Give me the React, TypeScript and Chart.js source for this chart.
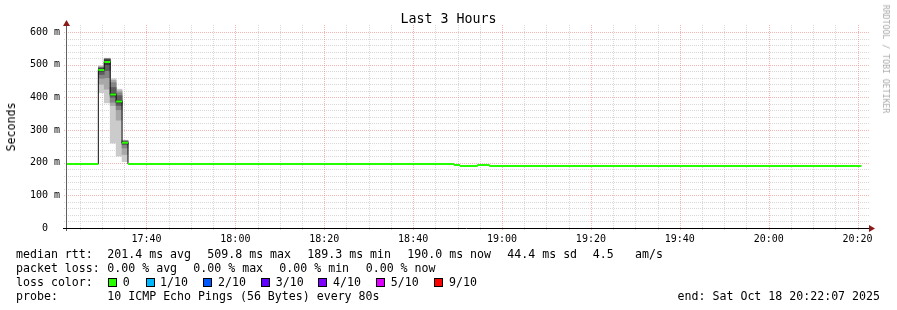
import React, { useEffect, useRef } from "react";
import { Chart, registerables } from "chart.js";

Chart.register(...registerables);

// ---------------- data ----------------
const GRAPH_START = "17:22:07";
const GRAPH_END = "20:22:07";
const STEP_SECONDS = 80;

// median rtt (ms): each value holds from its time until the next change time
const medianTimes = [
  "17:22:07", "17:29:10", "17:30:30", "17:31:50", "17:33:10", "17:34:30",
  "17:35:50", "18:49:10", "18:50:30", "18:54:30", "18:57:10",
];
const medianValues = [196, 484, 508, 409, 387, 261, 196, 193, 190, 193, 190];
const medianEnd = "20:20:50";

// smoke: 10 sorted ping rtts (ms) per 80 s interval
const smokeTimes = ["17:29:10", "17:30:30", "17:31:50", "17:33:10", "17:34:30"];
const smokePings = [
  [414, 440, 458, 470, 480, 488, 490, 492, 494, 497],
  [383, 425, 460, 482, 500, 515, 517, 518, 519, 520],
  [260, 375, 385, 400, 405, 412, 430, 445, 452, 457],
  [220, 330, 362, 375, 383, 391, 405, 414, 420, 425],
  [203, 225, 245, 255, 259, 263, 265, 267, 268, 269],
];

const yTickValues = [0, 100, 200, 300, 400, 500, 600];
const xTickLabels = ["17:40", "18:00", "18:20", "18:40", "19:00", "19:20", "19:40", "20:00", "20:20"];
const minorXMinutes = 5;
const minorYStep = 20;

const medianRow = ["median rtt:", "201.4 ms avg", "509.8 ms max", "189.3 ms min", "190.0 ms now", "44.4 ms sd", "4.5", "am/s"];
const lossRow = ["packet loss:", "0.00 % avg", "0.00 % max", "0.00 % min", "0.00 % now"];
const lossLabels = ["0", "1/10", "2/10", "3/10", "4/10", "5/10", "9/10"];
const lossColors = ["#26ff00", "#00b8ff", "#0059ff", "#5e00ff", "#7e00ff", "#dd00ff", "#ff0000"];
const probeRow = ["probe:", "10 ICMP Echo Pings (56 Bytes) every 80s"];
const endText = "end: Sat Oct 18 20:22:07 2025";
const titleText = "Last 3 Hours";
const yAxisTitle = "Seconds";
const watermark = "RRDTOOL / TOBI OETIKER";

// ---------------- layout / style ----------------
const W = 897;
const H = 310;
const MONO = "'DejaVu Sans Mono', monospace";
const medianRowX = [16, 107.3, 207.3, 307.3, 407.3, 507.3, 592.7, 635];
const lossRowX = [16, 107.3, 193.3, 279.3, 365.7];
const probeRowX = [16, 107.3];
const legendBoxX = [108, 146, 203, 261, 318, 376, 434];
const legendTextX = [122.7, 160, 218, 275.7, 333, 390.7, 449];
const smokeColors = ["#cbcbcb", "#a8a8a8", "#858585", "#5c5c5c", "#383838"];

const toSec = (s: string) => {
  const [h, m, x] = s.split(":").map(Number);
  return h * 3600 + m * 60 + x;
};
const fmtHM = (v: number) => {
  const h = Math.floor(v / 3600);
  const m = Math.floor((v % 3600) / 60);
  return String(h).padStart(2, "0") + ":" + String(m).padStart(2, "0");
};

const rrdPlugin = {
  id: "rrdGrid",
  beforeDatasetsDraw(chart: any) {
    const { ctx, chartArea: a, scales } = chart;
    const x = scales.x;
    const y = scales.y;
    const start = toSec(GRAPH_START);
    const end = toSec(GRAPH_END);
    const majors = xTickLabels.map((l) => toSec(l + ":00"));
    ctx.save();
    ctx.lineWidth = 1;
    ctx.setLineDash([1, 1]);
    const minorColor = "rgba(190,190,190,0.6)";
    const majorColor = "rgba(235,120,120,0.55)";
    const step = minorXMinutes * 60;
    const first = Math.ceil(start / step) * step;
    ctx.strokeStyle = minorColor;
    for (let t = first; t <= end; t += step) {
      if (majors.includes(t)) continue;
      const px = Math.round(x.getPixelForValue(t)) + 0.5;
      ctx.beginPath();
      ctx.moveTo(px, a.top - 7);
      ctx.lineTo(px, a.bottom + 3);
      ctx.stroke();
    }
    for (let v = minorYStep; v < 600; v += minorYStep) {
      if (v % 100 === 0) continue;
      const py = Math.round(y.getPixelForValue(v)) + 0.5;
      ctx.beginPath();
      ctx.moveTo(a.left - 3, py);
      ctx.lineTo(a.right + 2, py);
      ctx.stroke();
    }
    ctx.strokeStyle = majorColor;
    majors.forEach((t) => {
      const px = Math.round(x.getPixelForValue(t)) + 0.5;
      ctx.beginPath();
      ctx.moveTo(px, a.top - 7);
      ctx.lineTo(px, a.bottom + 3);
      ctx.stroke();
    });
    yTickValues.forEach((v) => {
      if (v === 0) return;
      const py = Math.round(y.getPixelForValue(v)) + 0.5;
      ctx.beginPath();
      ctx.moveTo(a.left - 3, py);
      ctx.lineTo(a.right + 2, py);
      ctx.stroke();
    });
    ctx.restore();
  },
  afterDatasetsDraw(chart: any) {
    const { ctx, chartArea: a } = chart;
    ctx.save();
    ctx.lineWidth = 1;
    ctx.setLineDash([]);
    const ax = a.left - 0.5;
    const ay = a.bottom + 0.5;
    ctx.strokeStyle = "#606060";
    ctx.beginPath();
    ctx.moveTo(ax, a.bottom + 3);
    ctx.lineTo(ax, a.top - 9);
    ctx.stroke();
    ctx.strokeStyle = "#000000";
    ctx.beginPath();
    ctx.moveTo(a.left - 4, ay);
    ctx.lineTo(a.right + 3, ay);
    ctx.stroke();
    ctx.fillStyle = "#8b1a1a";
    ctx.beginPath();
    ctx.moveTo(ax, a.top - 12);
    ctx.lineTo(ax - 3.5, a.top - 6);
    ctx.lineTo(ax + 3.5, a.top - 6);
    ctx.closePath();
    ctx.fill();
    ctx.beginPath();
    ctx.moveTo(a.right + 8, ay);
    ctx.lineTo(a.right + 2, ay - 3.5);
    ctx.lineTo(a.right + 2, ay + 3.5);
    ctx.closePath();
    ctx.fill();
    ctx.restore();
  },
};

export default function App() {
  const ref = useRef<HTMLCanvasElement>(null);

  useEffect(() => {
    if (!ref.current) return;
    const start = toSec(GRAPH_START);
    const end = toSec(GRAPH_END);
    const lastEnd = toSec(medianEnd);

    const medianLine: any[] = medianTimes.map((t, i) => ({ x: toSec(t), y: medianValues[i] }));
    medianLine.push({ x: lastEnd, y: medianValues[medianValues.length - 1] });

    const greenSegs: any[] = [];
    medianTimes.forEach((t, i) => {
      const s = toSec(t);
      const e = i + 1 < medianTimes.length ? toSec(medianTimes[i + 1]) : lastEnd;
      greenSegs.push({ x: s, y: medianValues[i] }, { x: e, y: medianValues[i] }, { x: e, y: null });
    });

    const smokeSets = smokeColors.map((c, b) => ({
      type: "bar" as const,
      data: smokeTimes.map((t, i) => ({
        x: toSec(t) + STEP_SECONDS / 2,
        y: [smokePings[i][b], smokePings[i][9 - b]],
      })),
      backgroundColor: c,
      borderWidth: 0,
      grouped: false,
      barPercentage: 1,
      categoryPercentage: 1,
      order: 10 - b,
    }));

    const chart = new Chart(ref.current, {
      type: "line",
      data: {
        datasets: [
          {
            type: "line",
            data: greenSegs,
            borderColor: "#26ff00",
            borderWidth: 2,
            pointRadius: 0,
            spanGaps: false,
            borderCapStyle: "butt",
            order: 0,
          } as any,
          {
            type: "line",
            data: medianLine,
            borderColor: "#101010",
            borderWidth: 1,
            pointRadius: 0,
            stepped: true,
            order: 1,
          } as any,
          ...(smokeSets as any[]),
        ],
      },
      options: {
        animation: false,
        responsive: false,
        devicePixelRatio: 1,
        events: [],
        layout: { padding: { top: 32, right: 30, left: 0, bottom: 0 } },
        plugins: { legend: { display: false }, tooltip: { enabled: false }, title: { display: false } },
        scales: {
          x: {
            type: "linear",
            min: start,
            max: end,
            offset: false,
            afterBuildTicks: (s: any) => {
              s.ticks = xTickLabels.map((l) => ({ value: toSec(l + ":00") }));
            },
            afterFit: (s: any) => {
              s.height = H - 228;
            },
            ticks: {
              autoSkip: false,
              maxRotation: 0,
              padding: 5,
              color: "#000",
              font: { family: MONO, size: 10 },
              callback: (v: any) => fmtHM(Number(v)),
            },
            grid: { display: false, drawTicks: false },
            border: { display: false },
          },
          y: {
            type: "linear",
            min: 0,
            max: 600,
            afterBuildTicks: (s: any) => {
              s.ticks = yTickValues.map((v) => ({ value: v }));
            },
            afterFit: (s: any) => {
              s.width = 67;
            },
            ticks: {
              padding: 7,
              color: "#000",
              font: { family: MONO, size: 10 },
              callback: (v: any) => (Number(v) === 0 ? "0  " : v + " m"),
            },
            grid: { display: false, drawTicks: false },
            border: { display: false },
          },
        },
      } as any,
      plugins: [rrdPlugin],
    });
    return () => chart.destroy();
  }, []);

  const textBase: React.CSSProperties = {
    position: "absolute",
    fontFamily: MONO,
    fontSize: "11.6px",
    lineHeight: "14px",
    whiteSpace: "pre",
    color: "#000",
  };

  const row = (items: string[], xs: number[], top: number) =>
    items.map((t, i) => (
      <div key={top + "-" + i} style={{ ...textBase, left: xs[i], top }}>{t}</div>
    ));

  return (
    <div style={{ position: "absolute", left: 0, top: 0, width: W, height: H, background: "#fff", overflow: "hidden" }}>
      <canvas ref={ref} width={W} height={H} style={{ position: "absolute", left: 0, top: 0, width: W, height: H }} />
      <div
        style={{
          position: "absolute", left: 0, top: 11, width: W, textAlign: "center",
          fontFamily: MONO, fontSize: "13.3px", lineHeight: "16px", color: "#000",
        }}
      >
        {titleText}
      </div>
      <div
        style={{
          ...textBase, left: 10.5, top: 127, transform: "translate(-50%, -50%) rotate(-90deg)",
        }}
      >
        {yAxisTitle}
      </div>
      <div
        style={{
          position: "absolute", left: 886, top: 59, transform: "translate(-50%, -50%) rotate(90deg)",
          fontFamily: MONO, fontSize: "8.2px", lineHeight: "10px", whiteSpace: "pre", color: "#aaaaaa",
        }}
      >
        {watermark}
      </div>
      {row(medianRow, medianRowX, 247)}
      {row(lossRow, lossRowX, 261)}
      <div style={{ ...textBase, left: 16, top: 275 }}>loss color:</div>
      {lossLabels.map((l, i) => (
        <React.Fragment key={l}>
          <div
            style={{
              position: "absolute", left: legendBoxX[i], top: 278, width: 7, height: 7,
              border: "1px solid #000", background: lossColors[i],
            }}
          />
          <div style={{ ...textBase, left: legendTextX[i], top: 275 }}>{l}</div>
        </React.Fragment>
      ))}
      {row(probeRow, probeRowX, 289)}
      <div style={{ ...textBase, right: W - 880, top: 289 }}>{endText}</div>
    </div>
  );
}
